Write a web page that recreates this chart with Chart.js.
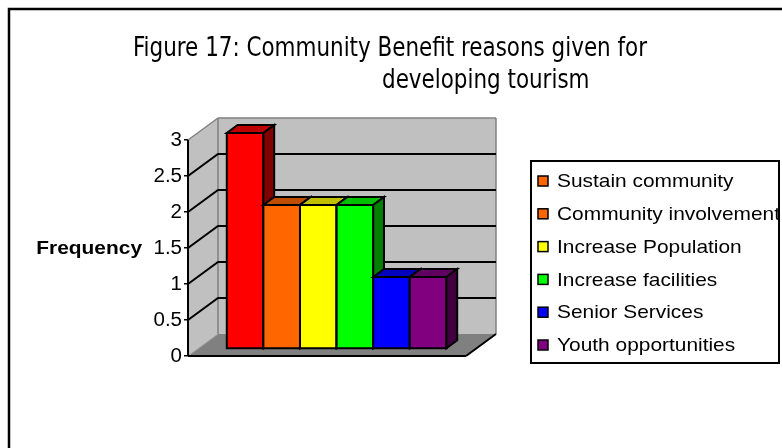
<!DOCTYPE html>
<html>
<head>
<meta charset="utf-8">
<script src="https://cdn.jsdelivr.net/npm/chart.js@4.4.1/dist/chart.umd.min.js"></script>
<style>
  html, body { margin: 0; padding: 0; background: #fff; }
  canvas { display: block; }
</style>
</head>
<body>
<canvas id="chart" width="782" height="448"></canvas>
<script>
// Figure 17 data
const seriesNames = ['Sustain community', 'Community involvement', 'Increase Population',
  'Increase facilities', 'Senior Services', 'Youth opportunities'];
const seriesValues = [3, 2, 2, 2, 1, 1];
const seriesColors = ['#ff0000', '#ff6600', '#ffff00', '#00ff00', '#0000ff', '#800080'];
const keyColors = ['#ff6600', '#ff6600', '#ffff00', '#00ff00', '#0000ff', '#800080'];
const yTicks = [0, 0.5, 1, 1.5, 2, 2.5, 3];
const titleLines = ['Figure 17: Community Benefit reasons given for', 'developing tourism'];
const yAxisName = 'Frequency';

// 3d box: depth offset of the back wall, and where the columns sit in depth
const DX = 30, DY = 22;
const F1 = 0.32, F2 = 0.68;
// labels are a little wider than the stock face
const WIDEN = 1.1;

const SANS = '"Liberation Sans", Arial, sans-serif';
const NARROW = '"Liberation Sans Narrow", "DejaVu Sans Condensed", sans-serif';

function shade(hex, k) {
  const n = parseInt(hex.slice(1), 16);
  const r = Math.round(((n >> 16) & 255) * k);
  const g = Math.round(((n >> 8) & 255) * k);
  const b = Math.round((n & 255) * k);
  return `rgb(${r},${g},${b})`;
}

function poly(ctx, pts) {
  ctx.beginPath();
  ctx.moveTo(pts[0][0], pts[0][1]);
  for (let i = 1; i < pts.length; i++) ctx.lineTo(pts[i][0], pts[i][1]);
  ctx.closePath();
}

function line(ctx, x1, y1, x2, y2) {
  ctx.beginPath();
  ctx.moveTo(x1, y1);
  ctx.lineTo(x2, y2);
  ctx.stroke();
}

// text stretched horizontally by k, anchored at x
function wideText(ctx, text, x, y, k, align) {
  ctx.save();
  ctx.translate(x, y);
  ctx.scale(k, 1);
  ctx.textAlign = align || 'left';
  ctx.fillText(text, 0, 0);
  ctx.restore();
}

const box3d = {
  id: 'box3d',
  beforeDatasetsDraw(chart) {
    const ctx = chart.ctx;
    const ys = chart.scales.y;
    const L = chart.chartArea.left, R = chart.chartArea.right;
    const T = ys.getPixelForValue(ys.max), B = ys.getPixelForValue(0);

    ctx.save();
    // walls and floor
    ctx.fillStyle = '#c0c0c0';
    poly(ctx, [[L, T], [L + DX, T - DY], [L + DX, B - DY], [L, B]]);
    ctx.fill();
    ctx.fillRect(L + DX, T - DY, R - L, B - T);
    ctx.fillStyle = '#808080';
    poly(ctx, [[L, B], [R, B], [R + DX, B - DY], [L + DX, B - DY]]);
    ctx.fill();

    ctx.strokeStyle = '#808080';
    ctx.lineWidth = 1.5;
    line(ctx, L, T, L + DX, T - DY);
    line(ctx, L + DX, T - DY, R + DX, T - DY);
    line(ctx, L + DX, T - DY, L + DX, B - DY);
    line(ctx, R + DX, T - DY, R + DX, B - DY);
    ctx.strokeStyle = '#a0a0a0';
    ctx.lineWidth = 1;
    line(ctx, L, B, L + DX, B - DY);

    // gridlines across the side and back walls
    ctx.strokeStyle = '#000';
    ctx.lineWidth = 2;
    yTicks.forEach(v => {
      if (v <= 0 || v >= ys.max) return;
      const y = ys.getPixelForValue(v);
      ctx.beginPath();
      ctx.moveTo(L, y);
      ctx.lineTo(L + DX, y - DY);
      ctx.lineTo(R + DX, y - DY);
      ctx.stroke();
    });

    // floor edges and value axis
    line(ctx, L, B, R, B);
    line(ctx, R, B, R + DX, B - DY);
    line(ctx, L, T, L, B);

    // columns, left to right so each one hides its neighbour's side face
    ctx.lineJoin = 'miter';
    chart.data.datasets.forEach((ds, i) => {
      const el = chart.getDatasetMeta(i).data[0];
      const x0 = el.x - el.width / 2 + F1 * DX;
      const x1 = el.x + el.width / 2 + F1 * DX;
      const yt = el.y - F1 * DY;
      const yb = el.base - F1 * DY;
      const ddx = (F2 - F1) * DX, ddy = (F2 - F1) * DY;
      const col = ds.backgroundColor;

      ctx.fillStyle = col;
      poly(ctx, [[x0, yt], [x1, yt], [x1, yb], [x0, yb]]);
      ctx.fill(); ctx.stroke();
      ctx.fillStyle = shade(col, 0.75);
      poly(ctx, [[x0, yt], [x1, yt], [x1 + ddx, yt - ddy], [x0 + ddx, yt - ddy]]);
      ctx.fill(); ctx.stroke();
      ctx.fillStyle = shade(col, 0.5);
      poly(ctx, [[x1, yt], [x1 + ddx, yt - ddy], [x1 + ddx, yb - ddy], [x1, yb]]);
      ctx.fill(); ctx.stroke();
    });
    ctx.restore();
    return false;
  },
  afterDraw(chart) {
    const ctx = chart.ctx;
    ctx.save();

    // outer frame
    ctx.strokeStyle = '#000';
    ctx.lineWidth = 2.5;
    ctx.strokeRect(9, 9, chart.width + 20, chart.height + 20);

    // title, drawn in a narrow face
    ctx.fillStyle = '#000';
    ctx.font = '26px ' + NARROW;
    ctx.textBaseline = 'alphabetic';
    const k = 514 / ctx.measureText(titleLines[0]).width;
    wideText(ctx, titleLines[0], 133, 56, k);
    wideText(ctx, titleLines[1], 382, 88, k);

    // axis name
    ctx.font = 'bold 19px ' + SANS;
    ctx.textBaseline = 'middle';
    wideText(ctx, yAxisName, 142, 249, WIDEN, 'right');

    // key box
    const bx = 531, by = 161, bw = 248, bh = 202;
    ctx.lineWidth = 2;
    ctx.strokeRect(bx, by, bw, bh);
    ctx.beginPath();
    ctx.rect(bx + 1, by + 1, bw - 2, bh - 2);
    ctx.clip();
    ctx.font = '19px ' + SANS;
    seriesNames.forEach((name, i) => {
      const cy = 181 + i * 32.8;
      ctx.fillStyle = keyColors[i];
      ctx.fillRect(538, cy - 5, 10, 10);
      ctx.lineWidth = 1.5;
      ctx.strokeStyle = '#000';
      ctx.strokeRect(538, cy - 5, 10, 10);
      ctx.fillStyle = '#000';
      wideText(ctx, name, 557, cy + 1, WIDEN);
    });
    ctx.restore();
  }
};

new Chart(document.getElementById('chart'), {
  type: 'bar',
  plugins: [box3d],
  data: {
    labels: [''],
    datasets: seriesNames.map((name, i) => ({
      label: name,
      data: [seriesValues[i]],
      backgroundColor: seriesColors[i],
      categoryPercentage: 0.79,
      barPercentage: 1
    }))
  },
  options: {
    responsive: false,
    animation: false,
    devicePixelRatio: 1,
    layout: { padding: { left: 148, top: 140, right: 316, bottom: 92 } },
    plugins: {
      legend: { display: false },
      title: { display: false },
      tooltip: { enabled: false }
    },
    scales: {
      x: { display: false },
      y: {
        min: 0,
        max: 3,
        afterFit: s => { s.width = 40; },
        afterBuildTicks: s => { s.ticks = yTicks.map(v => ({ value: v })); },
        ticks: {
          color: '#000',
          padding: 2,
          font: { family: SANS, size: 20.5 },
          callback: v => String(v)
        },
        grid: { drawOnChartArea: false, drawTicks: true, tickLength: 4, color: '#000', lineWidth: 1.5 },
        border: { display: false }
      }
    }
  }
});
</script>
</body>
</html>
